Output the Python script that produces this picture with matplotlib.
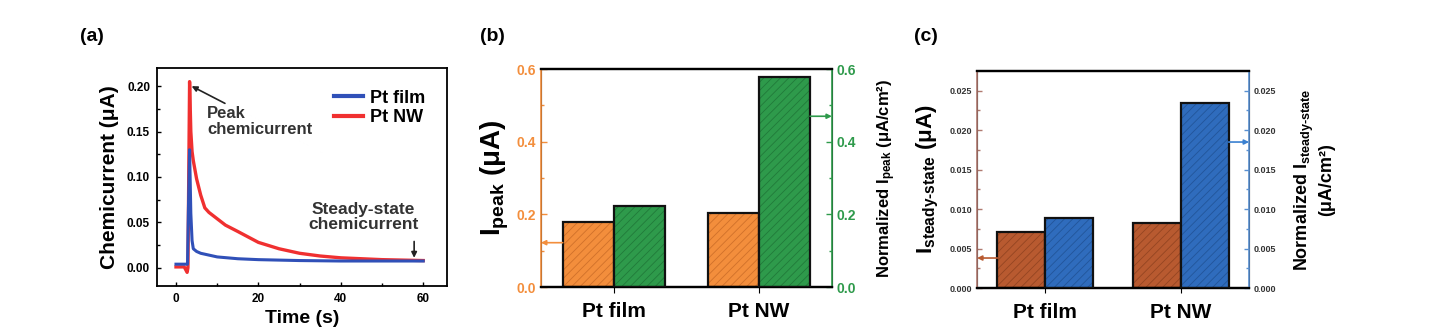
import numpy as np
import matplotlib
matplotlib.use('Agg')
import matplotlib.pyplot as plt

plt.rcParams['font.family'] = ['Liberation Sans', 'DejaVu Sans']
plt.rcParams['mathtext.fontset'] = 'custom'
plt.rcParams['mathtext.rm'] = 'Liberation Sans'
plt.rcParams['mathtext.bf'] = 'Liberation Sans:bold'
plt.rcParams['mathtext.default'] = 'bf'
plt.rcParams['hatch.linewidth'] = 0.6

# (a) chemicurrent transients
t_film = [0, 1, 2, 2.8, 3.0, 3.3, 3.6, 3.9, 4.2, 5, 6, 8, 10, 15, 20, 30, 40, 50, 60]
i_film = [0.004, 0.004, 0.004, 0.004, 0.06, 0.13, 0.06, 0.03, 0.021, 0.018, 0.016, 0.014, 0.012, 0.010, 0.009, 0.008, 0.0075, 0.0075, 0.0075]
t_nw = [0, 1, 2, 2.7, 2.9, 3.3, 3.6, 3.9, 4.2, 5, 6, 7, 8, 10, 12, 15, 20, 25, 30, 35, 40, 45, 50, 55, 60]
i_nw = [0.001, 0.001, 0.001, -0.005, 0.0, 0.205, 0.15, 0.128, 0.118, 0.098, 0.08, 0.066, 0.061, 0.054, 0.047, 0.040, 0.028, 0.021, 0.016, 0.013, 0.011, 0.010, 0.009, 0.0085, 0.008]

samples = ['Pt film', 'Pt NW']
# (b) peak chemicurrent
i_peak = [0.178, 0.204]
i_peak_norm = [0.223, 0.578]
# (c) steady-state chemicurrent
i_ss = [0.0071, 0.0082]
i_ss_norm = [0.0089, 0.0235]

c_orange, c_orange_h = '#F38E3C', '#D0702A'
c_green, c_green_h = '#2E9A4B', '#217A3A'
c_brown, c_brown_h = '#B85A30', '#944522'
c_blue, c_blue_h = '#2F6CBD', '#22559A'

fig = plt.figure(figsize=(14.46, 3.32), dpi=100)

# ---------- (a) ----------
ax = fig.add_axes([0.1086, 0.1386, 0.2006, 0.6566])
ax.plot(t_film, i_film, color='#3050B8', lw=2.2, label='Pt film', zorder=3)
ax.plot(t_nw, i_nw, color='#F03030', lw=2.4, label='Pt NW', zorder=2)
ax.set_xlim(-4.6, 65.8)
ax.set_ylim(-0.02, 0.22)
ax.set_xticks([0, 20, 40, 60])
ax.set_xticks([10, 30, 50], minor=True)
ax.set_yticks([0, 0.05, 0.10, 0.15, 0.20])
ax.set_yticks([0.025, 0.075, 0.125, 0.175], minor=True)
ax.set_yticklabels(['0.00', '0.05', '0.10', '0.15', '0.20'])
ax.tick_params(which='both', direction='in', labelsize=8.5, width=1, pad=5)
ax.tick_params(which='major', length=3)
ax.tick_params(which='minor', length=2)
for lab in ax.get_xticklabels() + ax.get_yticklabels():
    lab.set_fontweight('bold')
for s in ax.spines.values():
    s.set_linewidth(1.3)
ax.set_xlabel('Time (s)', fontsize=14, fontweight='bold', labelpad=4)
ax.set_ylabel('Chemicurrent (μA)', fontsize=15, fontweight='bold', labelpad=6)
leg = ax.legend(loc='upper right', frameon=False, handlelength=1.6, handletextpad=0.4,
                labelspacing=0.15, borderaxespad=0.8,
                prop={'weight': 'bold', 'size': 13})
for ln in leg.get_lines():
    ln.set_linewidth(3)
ax.annotate('Peak\nchemicurrent', xy=(3.8, 0.200), xytext=(7.6, 0.178),
            fontsize=12, fontweight='bold', color='#333333', va='top', ha='left',
            linespacing=1.05,
            arrowprops=dict(arrowstyle='-|>', color='#222222', lw=1.2, mutation_scale=8,
                            shrinkA=0, shrinkB=0))
ax.text(45.5, 0.056, 'Steady-state\nchemicurrent', fontsize=12.5, fontweight='bold',
        color='#333333', ha='center', va='center', linespacing=1.05)
ax.annotate('', xy=(57.8, 0.011), xytext=(57.8, 0.029),
            arrowprops=dict(arrowstyle='-|>', color='#222222', lw=1.2, mutation_scale=8,
                            shrinkA=0, shrinkB=0))
fig.text(0.055, 0.89, '(a)', fontsize=14, fontweight='bold', va='center')


def hatched_bars(axis, x, h, w, face, hatch_c):
    axis.bar(x, h, w, color=face, edgecolor=hatch_c, hatch='////', lw=0, zorder=2)
    axis.bar(x, h, w, fill=False, edgecolor='#111111', lw=1.6, zorder=3)


x = np.arange(len(samples))
w = 0.35

# ---------- (b) ----------
axb = fig.add_axes([0.3741, 0.1355, 0.2012, 0.6566])
axb2 = axb.twinx()
hatched_bars(axb, x - w / 2, i_peak, w, c_orange, c_orange_h)
hatched_bars(axb2, x + w / 2, i_peak_norm, w, c_green, c_green_h)
for a in (axb, axb2):
    a.set_xlim(-0.5, 1.5)
    a.set_ylim(0, 0.6)
    a.set_yticks([0, 0.2, 0.4, 0.6])
    a.set_yticks([0.1, 0.3, 0.5], minor=True)
axb.set_xticks(x)
axb.set_xticklabels(samples, fontsize=15, fontweight='bold')
axb.tick_params(axis='x', length=0, pad=7)
axb.tick_params(axis='y', which='both', direction='in', colors=c_orange, labelsize=10, width=1)
axb2.tick_params(axis='y', which='both', direction='in', colors=c_green, labelsize=10, width=1)
for a in (axb, axb2):
    a.tick_params(which='major', length=4)
    a.tick_params(which='minor', length=2.5)
    for lab in a.get_yticklabels():
        lab.set_fontweight('bold')
    a.spines['top'].set_linewidth(1.6)
    a.spines['bottom'].set_linewidth(1.6)
axb2.spines['left'].set_color(c_orange)
axb2.spines['right'].set_color(c_green)
axb2.spines['left'].set_linewidth(1.2)
axb2.spines['right'].set_linewidth(1.2)
axb.set_ylabel('I$_{peak}$ (μA)', fontsize=20, fontweight='bold', labelpad=4)
axb2.set_ylabel('Normalized I$_{peak}$ (μA/cm²)', fontsize=12, fontweight='bold', labelpad=14)
axb.annotate('', xy=(-0.5, 0.122), xytext=(-0.35, 0.122),
             arrowprops=dict(arrowstyle='-|>', color=c_orange, lw=1.2, mutation_scale=7,
                             shrinkA=0, shrinkB=0))
axb2.annotate('', xy=(1.5, 0.47), xytext=(1.35, 0.47),
              arrowprops=dict(arrowstyle='-|>', color=c_green, lw=1.2, mutation_scale=7,
                              shrinkA=0, shrinkB=0))
fig.text(0.332, 0.89, '(b)', fontsize=14, fontweight='bold', va='center')

# ---------- (c) ----------
axc = fig.add_axes([0.6757, 0.1325, 0.1881, 0.6536])
axc2 = axc.twinx()
hatched_bars(axc, x - w / 2, i_ss, w, c_brown, c_brown_h)
hatched_bars(axc2, x + w / 2, i_ss_norm, w, c_blue, c_blue_h)
for a in (axc, axc2):
    a.set_xlim(-0.5, 1.5)
    a.set_ylim(0, 0.0275)
    a.set_yticks([0, 0.005, 0.010, 0.015, 0.020, 0.025])
    a.set_yticklabels(['0.000', '0.005', '0.010', '0.015', '0.020', '0.025'])
    a.set_yticks([0.0025, 0.0075, 0.0125, 0.0175, 0.0225], minor=True)
axc.set_xticks(x)
axc.set_xticklabels(samples, fontsize=15, fontweight='bold')
axc.tick_params(axis='x', length=0, pad=7)
axc.tick_params(axis='y', which='both', direction='in', color='#B07A70',
                labelcolor='#333333', labelsize=6.5, width=1)
axc2.tick_params(axis='y', which='both', direction='in', color='#5A90D0',
                 labelcolor='#333333', labelsize=6.5, width=1)
for a in (axc, axc2):
    a.tick_params(which='major', length=3.5)
    a.tick_params(which='minor', length=2)
    for lab in a.get_yticklabels():
        lab.set_fontweight('bold')
    a.spines['top'].set_linewidth(1.6)
    a.spines['bottom'].set_linewidth(1.6)
axc2.spines['left'].set_color('#B07A70')
axc2.spines['right'].set_color('#5A90D0')
axc2.spines['left'].set_linewidth(1.2)
axc2.spines['right'].set_linewidth(1.2)
axc.set_ylabel('I$_{steady\u2010state}$ (μA)', fontsize=16, fontweight='bold', labelpad=6)
axc2.set_ylabel('Normalized I$_{steady\u2010state}$\n(μA/cm²)', fontsize=13, fontweight='bold',
                labelpad=12, linespacing=1.1)
axc.annotate('', xy=(-0.5, 0.0038), xytext=(-0.35, 0.0038),
             arrowprops=dict(arrowstyle='-|>', color=c_brown, lw=1.2, mutation_scale=7,
                             shrinkA=0, shrinkB=0))
axc2.annotate('', xy=(1.5, 0.0185), xytext=(1.35, 0.0185),
              arrowprops=dict(arrowstyle='-|>', color='#3A80D0', lw=1.2, mutation_scale=7,
                              shrinkA=0, shrinkB=0))
fig.text(0.632, 0.89, '(c)', fontsize=14, fontweight='bold', va='center')

fig.savefig('out.png', dpi=100)
